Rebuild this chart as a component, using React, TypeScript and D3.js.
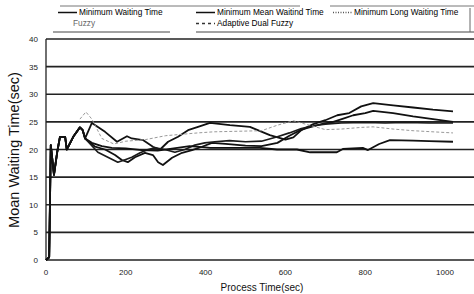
import React, { useEffect, useRef } from "react";
import * as d3 from "d3";

// shared start of every run (sec, waiting time)
const startPts: [number, number][] = [
  [0, 0], [8, 0.5], [12, 20.8], [20, 15.4], [28, 19.5], [35, 22.3], [48, 22.3],
  [52, 20], [70, 22.5], [85, 24], [92, 23.5], [98, 22],
];

const minWaiting: [number, number][] = [
  [115, 24.8], [148, 23.2], [178, 21.4], [203, 22.4], [215, 22], [243, 21.7],
  [268, 20.5], [286, 20], [306, 21.4], [331, 22.3], [356, 23.5], [381, 24.1],
  [411, 24.8], [461, 24.4], [511, 24.1], [561, 22.6], [600, 21.8], [620, 22.2],
  [640, 23.5], [670, 24.6], [700, 25.3], [730, 26.2], [760, 26.6], [790, 27.8],
  [820, 28.4], [870, 28.0], [920, 27.6], [970, 27.2], [1020, 26.9],
];

const minMean: [number, number][] = [
  [123, 20.5], [148, 20], [173, 19], [190, 18.1], [205, 17.7], [223, 18.6],
  [248, 19.4], [268, 19], [281, 17.7], [293, 17.2], [316, 18.5], [341, 19.4],
  [366, 19.9], [391, 20.5], [416, 21.2], [450, 21], [500, 20.7], [540, 20.6],
  [580, 21.2], [610, 22.5], [640, 23.6], [660, 24], [690, 24.6], [720, 25],
  [745, 25.6], [770, 26.2], [800, 26.6], [820, 27], [870, 26.6], [920, 26],
  [970, 25.5], [1020, 25],
];

const minLong: [number, number][] = [
  [130, 19.5], [155, 18.6], [180, 17.7], [200, 18.2], [215, 18.6], [236, 19.4],
  [256, 20], [273, 20.3], [298, 20], [323, 19.5], [348, 20], [373, 20.8],
  [398, 21.2], [423, 21.4], [460, 21.6], [500, 21.4], [540, 21.5], [580, 22.3],
  [610, 23], [640, 23.8], [670, 24.3], [700, 24.6], [740, 24.8], [800, 24.9],
  [850, 24.8], [900, 24.9], [960, 24.8], [1020, 24.8],
];

const fuzzy: [number, number][] = [
  [115, 21.2], [140, 20.6], [165, 20.3], [200, 20.2], [240, 19.9], [280, 19.8],
  [320, 20.2], [360, 20.6], [400, 20.4], [411, 20.3], [536, 20.3], [579, 20],
  [629, 20], [662, 19.5], [729, 19.5], [744, 20.1], [794, 20.3], [807, 19.9],
  [835, 21], [862, 21.7], [920, 21.6], [960, 21.5], [1020, 21.4],
];

const adaptiveDual: [number, number][] = [
  [85, 25.5], [100, 26.8], [115, 25.5], [140, 22], [170, 21], [200, 21.5],
  [250, 21.8], [300, 22.5], [380, 23], [420, 23.2], [480, 23.3], [540, 23.4],
  [580, 24.4], [620, 25.2], [660, 24.4], [700, 23.6], [740, 23.7], [790, 24],
  [820, 24.1], [870, 23.7], [920, 23.4], [970, 23.2], [1020, 23],
];

const yTicks = [0, 5, 10, 15, 20, 25, 30, 35, 40];
const xTicks = [0, 200, 400, 600, 800, 1000];

const FONT = "Liberation Sans, Arial, sans-serif";

const App = () => {
  const ref = useRef<SVGSVGElement>(null);

  useEffect(() => {
    const svg = d3.select(ref.current);
    svg.selectAll("*").remove();

    const x = d3.scaleLinear().domain([0, 1000]).range([46, 445]);
    const y = d3.scaleLinear().domain([0, 40]).range([260, 39]);
    const line = d3.line<[number, number]>()
      .x(d => x(d[0]))
      .y(d => y(d[1]));

    // grid
    svg.append("g")
      .selectAll("line")
      .data(yTicks)
      .enter().append("line")
      .attr("x1", 46)
      .attr("x2", 474)
      .attr("y1", d => y(d))
      .attr("y2", d => y(d))
      .attr("stroke", "#222")
      .attr("stroke-width", 1.7);

    svg.append("line")
      .attr("x1", 46).attr("x2", 46)
      .attr("y1", y(40)).attr("y2", y(0))
      .attr("stroke", "#222").attr("stroke-width", 1.3);

    svg.append("g")
      .selectAll("text")
      .data(yTicks)
      .enter().append("text")
      .attr("x", 38)
      .attr("y", d => y(d) + 3)
      .attr("text-anchor", "end")
      .attr("font-size", 8)
      .attr("font-family", FONT)
      .attr("fill", "#222")
      .text(d => d);

    svg.append("g")
      .selectAll("text")
      .data(xTicks)
      .enter().append("text")
      .attr("x", d => x(d))
      .attr("y", 275)
      .attr("text-anchor", "middle")
      .attr("font-size", 8)
      .attr("font-family", FONT)
      .attr("fill", "#222")
      .text(d => d);

    svg.append("text")
      .attr("x", 262).attr("y", 291)
      .attr("text-anchor", "middle")
      .attr("font-size", 10)
      .attr("font-family", FONT)
      .attr("fill", "#111")
      .text("Process Time(sec)");

    svg.append("text")
      .attr("transform", "translate(19,150) rotate(-90)")
      .attr("text-anchor", "middle")
      .attr("font-size", 14.5)
      .attr("font-family", FONT)
      .attr("fill", "#111")
      .text("Moan Waiting Time(sec)");

    const series = [
      { pts: startPts.concat(minWaiting), color: "#111", dash: null, w: 1.8 },
      { pts: startPts.concat(minMean), color: "#111", dash: null, w: 1.8 },
      { pts: startPts.concat(minLong), color: "#1a1a1a", dash: null, w: 1.7 },
      { pts: startPts.concat(fuzzy), color: "#111", dash: null, w: 1.8 },
      { pts: adaptiveDual, color: "#999", dash: "3,2", w: 1 },
    ];

    svg.append("g")
      .selectAll("path")
      .data(series)
      .enter().append("path")
      .attr("d", d => line(d.pts))
      .attr("fill", "none")
      .attr("stroke", d => d.color)
      .attr("stroke-width", d => d.w)
      .attr("stroke-dasharray", d => d.dash)
      .attr("stroke-linejoin", "round");

    // legend
    const lg = svg.append("g")
      .attr("font-family", FONT)
      .attr("font-size", 8.3)
      .attr("fill", "#000");
    lg.append("line").attr("x1", 60).attr("x2", 300).attr("y1", 6).attr("y2", 6)
      .attr("stroke", "#777").attr("stroke-width", 1);
    lg.append("line").attr("x1", 330).attr("x2", 474).attr("y1", 6).attr("y2", 6)
      .attr("stroke", "#777").attr("stroke-width", 1);
    lg.append("line").attr("x1", 53).attr("x2", 170).attr("y1", 32).attr("y2", 32)
      .attr("stroke", "#444").attr("stroke-width", 1);
    lg.append("line").attr("x1", 196).attr("x2", 474).attr("y1", 32).attr("y2", 32)
      .attr("stroke", "#444").attr("stroke-width", 1);
    lg.append("line").attr("x1", 470).attr("x2", 470).attr("y1", 8).attr("y2", 32)
      .attr("stroke", "#666").attr("stroke-width", 1);

    const items = [
      { x: 58, y: 15, label: "Minimum Waiting Time", dash: null, color: "#111" },
      { x: 196, y: 15, label: "Minimum Mean Waitind Time", dash: null, color: "#111" },
      { x: 333, y: 15, label: "Minimum Long Waiting Time", dash: "1,1.5", color: "#555" },
      { x: 196, y: 26, label: "Adaptive Dual Fuzzy", dash: "3,3", color: "#333" },
    ];
    items.forEach(it => {
      lg.append("line")
        .attr("x1", it.x).attr("x2", it.x + 19)
        .attr("y1", it.y - 2.5).attr("y2", it.y - 2.5)
        .attr("stroke", it.color).attr("stroke-width", 1.5)
        .attr("stroke-dasharray", it.dash);
      lg.append("text").attr("x", it.x + 21).attr("y", it.y).text(it.label);
    });
    lg.append("text").attr("x", 73).attr("y", 26).attr("fill", "#666").text("Fuzzy");
  }, []);

  return (
    <svg
      ref={ref}
      width={474}
      height={294}
      style={{ position: "absolute", left: 0, top: 0, background: "#fff" }}
    />
  );
};

export default App;
